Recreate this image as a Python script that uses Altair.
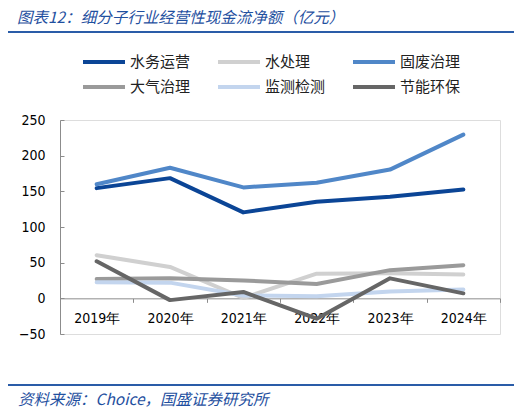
import altair as alt
import pandas as pd

years = ["2019年", "2020年", "2021年", "2022年", "2023年", "2024年"]
series_names = ["水务运营", "水处理", "固废治理", "大气治理", "监测检测", "节能环保"]
water_ops = [154.5, 168.5, 120.5, 135.5, 142.5, 152.5]
water_treat = [60.5, 44, 0.5, 34.5, 35, 33.5]
solid_waste = [160, 183, 155.5, 162, 180.5, 229.5]
air = [27, 28, 25, 20, 39.5, 46.5]
monitor = [22.5, 22, 4, 3, 9.5, 12.5]
energy = [52, -2.5, 9, -28.5, 28, 7]
colors = ["#0b4596", "#d0d0d0", "#5087c8", "#9a9a9a", "#c3d5ee", "#666666"]
y_ticks = [-50, 0, 50, 100, 150, 200, 250]

title_text = "图表12：细分子行业经营性现金流净额（亿元）"
source_text = "资料来源：Choice，国盛证券研究所"

all_values = [water_ops, water_treat, solid_waste, air, monitor, energy]
rows = []
for name, vals in zip(series_names, all_values):
    for i, (yr, v) in enumerate(zip(years, vals)):
        rows.append({"year": yr, "series": name, "value": v})
df = pd.DataFrame(rows)

W = 440
H = 214
num_font = "DejaVu Sans Condensed"
cjk_font = "Noto Sans CJK SC"
blue = "#1f50a0"

yscale = alt.Scale(domain=[-50, 250], nice=False, zero=False)
xscale = alt.Scale(type="band", paddingInner=0, paddingOuter=0)
xaxis = alt.Axis(
    title=None,
    labelAngle=0,
    tickBand="extent",
    ticks=True,
    tickSize=4,
    tickColor="#8c8c8c",
    domainColor="#8c8c8c",
    labelColor="#000000",
    labelFont=num_font,
    labelFontSize=14,
    labelPadding=9,
    offset=-H / 6,
    grid=False,
)

lines = alt.Chart(df).mark_line(strokeWidth=4, strokeCap="round", strokeJoin="round").encode(
    x=alt.X("year:N", sort=years, bandPosition=0.5, scale=xscale, axis=xaxis),
    y=alt.Y(
        "value:Q",
        scale=yscale,
        axis=alt.Axis(
            title=None,
            values=y_ticks,
            ticks=False,
            domainColor="#8c8c8c",
            labelColor="#000000",
            labelFont=num_font,
            labelFontSize=14,
            labelPadding=15,
            grid=False,
        ),
    ),
    color=alt.Color(
        "series:N",
        sort=series_names,
        scale=alt.Scale(domain=series_names, range=colors),
        legend=alt.Legend(
            title=None,
            orient="none",
            direction="horizontal",
            legendX=35,
            legendY=-67,
            columns=3,
            columnPadding=19,
            rowPadding=8,
            symbolType="M-3,0H3",
            symbolSize=196,
            symbolStrokeWidth=4,
            labelFont=cjk_font,
            labelFontSize=15,
            labelColor="#222222",
            labelOffset=17,
            labelLimit=200,
            padding=0,
        ),
    ),
)

ticks_layer = alt.Chart(df).mark_line(opacity=0).encode(
    x=alt.X("year:N", sort=years, bandPosition=0.5, scale=xscale, axis=xaxis),
    y=alt.Y(
        "value:Q",
        scale=yscale,
        axis=alt.Axis(
            title=None,
            orient="right",
            offset=-W,
            values=y_ticks,
            labels=False,
            domain=False,
            ticks=True,
            tickSize=4,
            tickColor="#8c8c8c",
            grid=False,
        ),
    ),
)

title_layer = alt.Chart(pd.DataFrame({"t": [title_text]})).mark_text(
    align="left", baseline="middle", font=cjk_font, fontSize=15.5, fontStyle="italic", color=blue
).encode(x=alt.value(-43), y=alt.value(-102), text="t:N")

source_layer = alt.Chart(pd.DataFrame({"t": [source_text]})).mark_text(
    align="left", baseline="middle", font=cjk_font, fontSize=15.5, fontStyle="italic", color=blue
).encode(x=alt.value(-42), y=alt.value(280), text="t:N")

top_rule = alt.Chart(pd.DataFrame({"a": [0]})).mark_rule(color="#2a5ca8", strokeWidth=2).encode(
    x=alt.value(-55), x2=alt.value(457), y=alt.value(-88)
)
bottom_rule = alt.Chart(pd.DataFrame({"a": [0]})).mark_rule(color="#2a5ca8", strokeWidth=2).encode(
    x=alt.value(-55), x2=alt.value(457), y=alt.value(265)
)

chart = alt.layer(lines, ticks_layer, title_layer, source_layer, top_rule, bottom_rule).resolve_axis(
    y="independent"
).resolve_scale(y="shared").properties(
    width=W,
    height=H,
    autosize=alt.AutoSizeParams(type="none"),
    padding={"left": 52, "top": 112, "right": 14, "bottom": 76},
).configure_view(stroke=None).configure(background="#ffffff")

chart.save("out.html", embed_options={"renderer": "svg", "actions": False})
